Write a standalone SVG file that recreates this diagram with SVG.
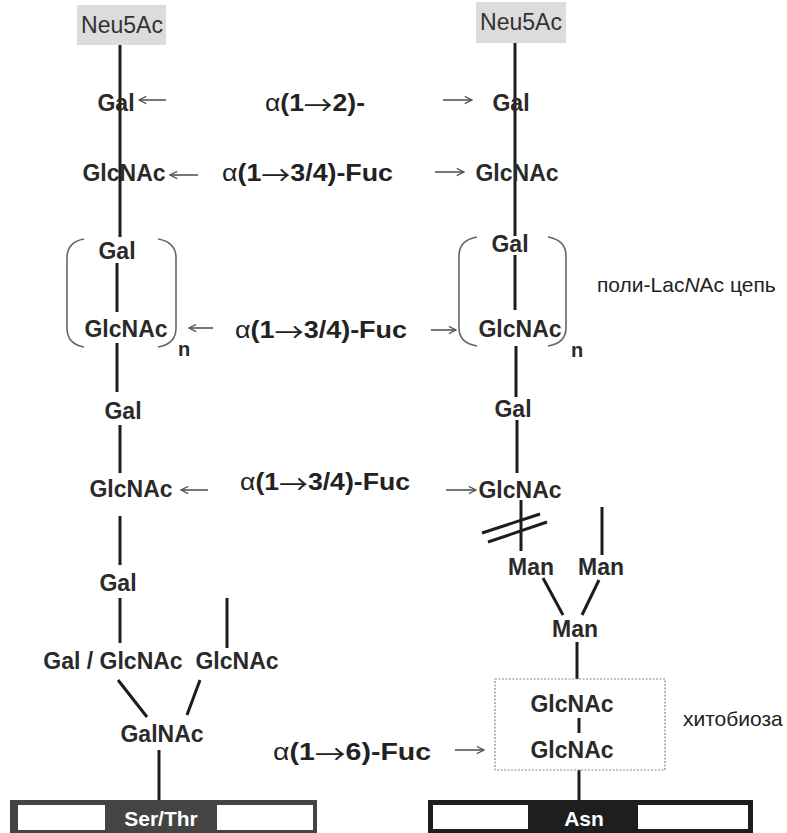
<svg xmlns="http://www.w3.org/2000/svg" width="787" height="833" viewBox="0 0 787 833">
  <style>
    .sugar { font-family: "Liberation Sans", Arial, sans-serif; font-weight: bold; font-size: 23px; fill: #2a2a2a; text-anchor: middle; }
    .neu { font-family: "Liberation Sans", Arial, sans-serif; font-size: 23px; fill: #333; text-anchor: middle; }
    .label { font-family: "Liberation Sans", Arial, sans-serif; font-weight: bold; font-size: 24px; fill: #222; }
    .label .thin { font-weight: normal; }
    .label .arr { font-family: "Noto Sans CJK SC", "DejaVu Sans", sans-serif; font-weight: normal; font-size: 26px; }
    .note { font-family: "Liberation Sans", Arial, sans-serif; font-size: 21px; fill: #222; }
    .pep { font-family: "Liberation Sans", Arial, sans-serif; font-weight: bold; font-size: 21px; fill: #fff; text-anchor: middle; }
    .bond { stroke: #1c1c1c; stroke-width: 3; fill: none; stroke-linecap: butt; }
    .paren { stroke: #666; stroke-width: 1.6; fill: none; }
    .ptr { stroke: #555; stroke-width: 1.6; fill: none; marker-end: url(#head); }
  </style>
  <defs>
    <marker id="head" viewBox="0 0 10 10" refX="9" refY="5" markerWidth="9" markerHeight="9" markerUnits="userSpaceOnUse" orient="auto">
      <path d="M1,1 L9,5 L1,9" fill="none" stroke="#555" stroke-width="1.4"/>
    </marker>
  </defs>

  <rect x="0" y="0" width="787" height="833" fill="#fff"/>

  <!-- bonds -->
  <g id="connectors">
    <!-- O-glycan chain -->
    <path class="bond" d="M120,45 V237"/>
    <path class="bond" d="M117,263 V312"/>
    <path class="bond" d="M117,343 V392"/>
    <path class="bond" d="M120,425 V473"/>
    <path class="bond" d="M120,516 V565"/>
    <path class="bond" d="M120,598 V643"/>
    <path class="bond" d="M227,598 V648"/>
    <path class="bond" d="M118,680 L147,717"/>
    <path class="bond" d="M200,680 L187,715"/>
    <path class="bond" d="M159,750 V800"/>
    <!-- N-glycan chain -->
    <path class="bond" d="M515,43 V236"/>
    <path class="bond" d="M515,255 V310"/>
    <path class="bond" d="M516,346 V397"/>
    <path class="bond" d="M517,420 V473"/>
    <path class="bond" d="M521,500 V551"/>
    <path class="bond" d="M482,533 L540,514"/>
    <path class="bond" d="M488,542 L547,522"/>
    <path class="bond" d="M602,507 V555"/>
    <path class="bond" d="M543,578 L563,615"/>
    <path class="bond" d="M599,580 L582,615"/>
    <path class="bond" d="M577,642 V679"/>
    <path class="bond" d="M579,718 V733"/>
    <path class="bond" d="M579,770 V800"/>
    <!-- fucosylation pointers -->
    <path class="ptr" d="M166,100 H139"/>
    <path class="ptr" d="M198,175 H170"/>
    <path class="ptr" d="M213,328 H189"/>
    <path class="ptr" d="M208,490 H181"/>
    <path class="ptr" d="M443,100 H472"/>
    <path class="ptr" d="M435,172 H464"/>
    <path class="ptr" d="M431,330 H456"/>
    <path class="ptr" d="M446,490 H476"/>
    <path class="ptr" d="M455,750 H484"/>
  </g>

  <!-- repeat brackets -->
  <g id="repeat-left">
    <path class="paren" d="M84,239 Q67,242 67,258 V328 Q67,344 84,347"/>
    <path class="paren" d="M158,239 Q176,242 176,258 V328 Q176,344 158,347"/>
    <text class="sugar" x="184" y="356" style="font-size:20px">n</text>
  </g>
  <g id="repeat-right">
    <path class="paren" d="M477,237 Q459,240 459,256 V328 Q459,343 477,346"/>
    <path class="paren" d="M548,237 Q566,240 566,256 V328 Q566,343 548,346"/>
    <text class="sugar" x="577" y="357" style="font-size:20px">n</text>
  </g>

  <!-- O-glycan nodes -->
  <g id="o-neu5ac"><rect x="77" y="5" width="89" height="40" fill="#dcdcdc"/><text class="neu" x="122" y="33">Neu5Ac</text></g>
  <g id="o-gal1"><text class="sugar" x="116" y="111">Gal</text></g>
  <g id="o-glcnac1"><text class="sugar" x="124" y="181">GlcNAc</text></g>
  <g id="o-gal2"><text class="sugar" x="117" y="259">Gal</text></g>
  <g id="o-glcnac2"><text class="sugar" x="126" y="337">GlcNAc</text></g>
  <g id="o-gal3"><text class="sugar" x="123" y="419">Gal</text></g>
  <g id="o-glcnac3"><text class="sugar" x="131" y="497">GlcNAc</text></g>
  <g id="o-gal4"><text class="sugar" x="118" y="591">Gal</text></g>
  <g id="o-galglcnac"><text class="sugar" x="113" y="669">Gal / GlcNAc</text></g>
  <g id="o-glcnac-branch"><text class="sugar" x="237" y="669">GlcNAc</text></g>
  <g id="o-galnac"><text class="sugar" x="162" y="742">GalNAc</text></g>
  <g id="ser-thr">
    <rect x="10" y="800" width="307" height="33" fill="#444"/>
    <rect x="18" y="805" width="87" height="25" fill="#fff"/>
    <rect x="217" y="805" width="96" height="25" fill="#fff"/>
    <text class="pep" x="161" y="826">Ser/Thr</text>
  </g>

  <!-- N-glycan nodes -->
  <g id="n-neu5ac"><rect x="476" y="2" width="90" height="41" fill="#dcdcdc"/><text class="neu" x="521" y="30">Neu5Ac</text></g>
  <g id="n-gal1"><text class="sugar" x="511" y="111">Gal</text></g>
  <g id="n-glcnac1"><text class="sugar" x="517" y="181">GlcNAc</text></g>
  <g id="n-gal2"><text class="sugar" x="510" y="252">Gal</text></g>
  <g id="n-glcnac2"><text class="sugar" x="520" y="337">GlcNAc</text></g>
  <g id="n-gal3"><text class="sugar" x="513" y="417">Gal</text></g>
  <g id="n-glcnac3"><text class="sugar" x="520" y="498">GlcNAc</text></g>
  <g id="n-man-a"><text class="sugar" x="531" y="575">Man</text></g>
  <g id="n-man-b"><text class="sugar" x="601" y="575">Man</text></g>
  <g id="n-man-core"><text class="sugar" x="575" y="637">Man</text></g>
  <g id="chitobiose">
    <rect x="495" y="679" width="170" height="91" fill="none" stroke="#888" stroke-width="1.2" stroke-dasharray="2,1.5"/>
    <text class="sugar" x="572" y="712">GlcNAc</text>
    <text class="sugar" x="572" y="758">GlcNAc</text>
  </g>
  <g id="asn">
    <rect x="428" y="800" width="325" height="33" fill="#1e1e1e"/>
    <rect x="433" y="805" width="95" height="24" fill="#fff"/>
    <rect x="638" y="805" width="110" height="24" fill="#fff"/>
    <text class="pep" x="584" y="826">Asn</text>
  </g>

  <!-- linkage labels (the arrow glyph is lowered onto the digit midline) -->
  <g id="labels">
    <text class="label" x="265" y="111" textLength="100" lengthAdjust="spacingAndGlyphs"><tspan class="thin">α</tspan>(1<tspan class="arr" dy="4">→</tspan><tspan dy="-4">2)-</tspan></text>
    <text class="label" x="222" y="181" textLength="171" lengthAdjust="spacingAndGlyphs"><tspan class="thin">α</tspan>(1<tspan class="arr" dy="4">→</tspan><tspan dy="-4">3/4)-Fuc</tspan></text>
    <text class="label" x="235" y="338" textLength="172" lengthAdjust="spacingAndGlyphs"><tspan class="thin">α</tspan>(1<tspan class="arr" dy="4">→</tspan><tspan dy="-4">3/4)-Fuc</tspan></text>
    <text class="label" x="240" y="490" textLength="170" lengthAdjust="spacingAndGlyphs"><tspan class="thin">α</tspan>(1<tspan class="arr" dy="4">→</tspan><tspan dy="-4">3/4)-Fuc</tspan></text>
    <text class="label" x="273" y="760" textLength="158" lengthAdjust="spacingAndGlyphs"><tspan class="thin">α</tspan>(1<tspan class="arr" dy="4">→</tspan><tspan dy="-4">6)-Fuc</tspan></text>
    <text class="note" x="597" y="292">поли-Lac<tspan font-style="italic">N</tspan>Ac цепь</text>
    <text class="note" x="683" y="726">хитобиоза</text>
  </g>
</svg>
